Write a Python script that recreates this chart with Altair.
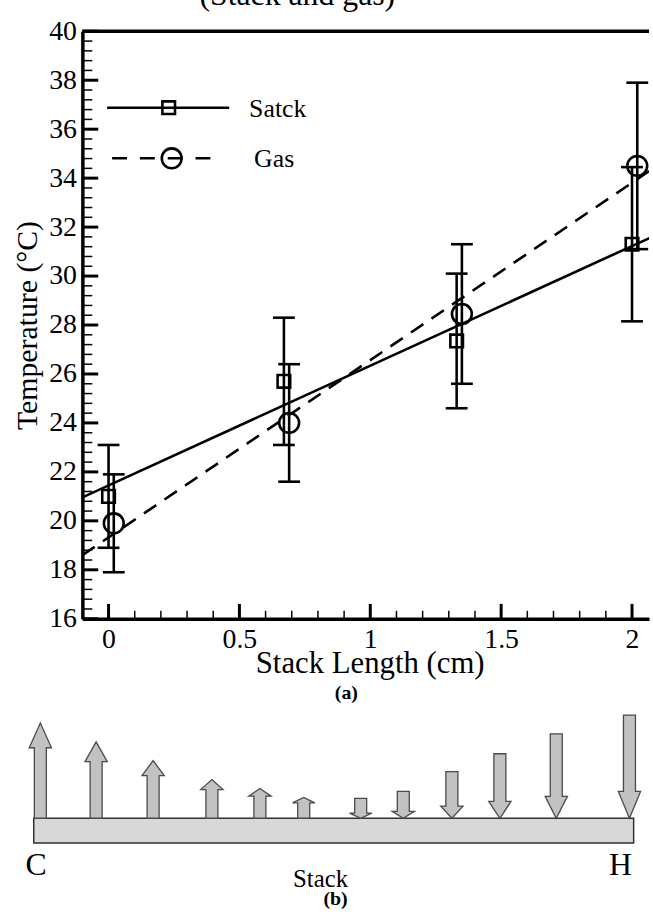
import altair as alt
import numpy as np
import pandas as pd

# ---------------- panel (a): temperatures along the stack ----------------
series_names = ["Satck", "Gas"]

stack_x = [0.0, 0.67, 1.33, 2.0]
stack_temp = [21.0, 25.7, 27.35, 31.3]
stack_err = [2.1, 2.6, 2.75, 3.15]

gas_x = [0.02, 0.69, 1.35, 2.02]
gas_temp = [19.9, 24.0, 28.45, 34.5]
gas_err = [2.0, 2.4, 2.85, 3.4]

x_ticks = [0, 0.5, 1, 1.5, 2]
y_ticks = [16, 18, 20, 22, 24, 26, 28, 30, 32, 34, 36, 38, 40]

caption_top = "(Stack and gas)"
x_title = "Stack Length (cm)"
y_title = "Temperature (°C)"
tag_a = "(a)"
tag_b = "(b)"

# ---------------- panel (b): heat flux arrows (+ up, - down) ----------------
arrow_pos = [0.011, 0.104, 0.199, 0.297, 0.377, 0.450,
             0.545, 0.616, 0.697, 0.777, 0.871, 0.993]
arrow_len = [96, 77, 58, 39, 30, 21, -20, -27, -47, -65, -85, -104]
end_labels = ["C", "H"]
stack_label = "Stack"

SERIF = "'Liberation Serif', 'Times New Roman', Times, serif"
INK = "#000000"
LW = 2.6

# ---------------- panel (a) ----------------
X_MIN, X_MAX = -0.1, 2.065
W_A, H_A = 571, 592
xs = alt.Scale(domain=[X_MIN, X_MAX], nice=False, zero=False)
ys = alt.Scale(domain=[y_ticks[0], y_ticks[-1]], nice=False, zero=False)

AX_X = alt.Axis(
    values=x_ticks, format="~g", ticks=False, tickSize=0,
    domainWidth=3.5, domainColor=INK, grid=False,
    labelFont=SERIF, labelFontSize=28, labelColor=INK,
    labelPadding=7, labelFlush=False,
    title=x_title, titleFont=SERIF, titleFontSize=31,
    titleFontWeight="normal", titleColor=INK,
    titleX=W_A / 2 + 4, titleY=54, titleAlign="center",
    titleBaseline="alphabetic",
)
AX_Y = alt.Axis(
    values=y_ticks, ticks=False, tickSize=0,
    domainWidth=3.5, domainColor=INK, grid=False,
    labelFont=SERIF, labelFontSize=28, labelColor=INK,
    labelPadding=6,
    title=y_title, titleFont=SERIF, titleFontSize=30,
    titleFontWeight="normal", titleColor=INK,
    titleAngle=270, titleX=-46, titleY=H_A / 2,
    titleAlign="center", titleBaseline="alphabetic",
)

stack_df = pd.DataFrame({"x": stack_x, "t": stack_temp, "e": stack_err})
gas_df = pd.DataFrame({"x": gas_x, "t": gas_temp, "e": gas_err})


def X(field):
    return alt.X(field, scale=xs, axis=AX_X)


def Y(field):
    return alt.Y(field, scale=ys, axis=AX_Y)


def fit_line(df, dash=None):
    kw = dict(clip=True, color=INK, strokeWidth=LW)
    if dash:
        kw["strokeDash"] = dash
    return (
        alt.Chart(df)
        .transform_regression("x", "t", extent=[X_MIN, 2.2])
        .mark_line(**kw)
        .encode(x=X("x:Q"), y=Y("t:Q"))
    )


def error_bars(df):
    base = alt.Chart(df).transform_calculate(
        lo="datum.t - datum.e", hi="datum.t + datum.e"
    )
    stem = base.mark_rule(color=INK, strokeWidth=LW).encode(
        x=X("x:Q"), y=Y("lo:Q"), y2="hi:Q"
    )
    caps = (
        base.transform_fold(["lo", "hi"], as_=["end", "v"])
        .mark_tick(orient="horizontal", size=22, thickness=LW, color=INK,
                   opacity=1)
        .encode(x=X("x:Q"), y=Y("v:Q"))
    )
    return stem + caps


def markers(df, shape, size):
    return alt.Chart(df).mark_point(
        shape=shape, size=size, filled=False, color=INK,
        strokeWidth=LW, opacity=1,
    ).encode(x=X("x:Q"), y=Y("t:Q"))


# inward ticks on the left and bottom axes
y_minor = [v for v in np.round(np.arange(16.4, 40.0, 0.4), 1) if v % 2]
x_minor = [v for v in np.round(np.arange(0.1, 2.06, 0.1), 1)
           if abs(v * 2 - round(v * 2)) > 1e-6]

y_major_ticks = alt.Chart(pd.DataFrame({"v": y_ticks})).mark_rule(
    color=INK, strokeWidth=3).encode(
    y=Y("v:Q"), x=alt.value(0), x2=alt.value(16))
y_minor_ticks = alt.Chart(pd.DataFrame({"v": y_minor})).mark_rule(
    color=INK, strokeWidth=1.5).encode(
    y=Y("v:Q"), x=alt.value(0), x2=alt.value(10))
x_major_ticks = alt.Chart(pd.DataFrame({"v": x_ticks})).mark_rule(
    color=INK, strokeWidth=3).encode(
    x=X("v:Q"), y=alt.value(H_A), y2=alt.value(H_A - 15))
x_minor_ticks = alt.Chart(pd.DataFrame({"v": x_minor})).mark_rule(
    color=INK, strokeWidth=1.5).encode(
    x=X("v:Q"), y=alt.value(H_A), y2=alt.value(H_A - 8))
top_border = alt.Chart(pd.DataFrame({"v": [0]})).mark_rule(
    color=INK, strokeWidth=3.5).encode(
    x=alt.value(0), x2=alt.value(W_A), y=alt.value(0))


def legend_row(name, y_px, x0, x1, xm, xt, shape, size, dash=None):
    base = alt.Chart(pd.DataFrame({"name": [name]}))
    kw = dict(color=INK, strokeWidth=LW)
    if dash:
        kw["strokeDash"] = dash
    line = base.mark_rule(**kw).encode(
        x=alt.value(x0), x2=alt.value(x1), y=alt.value(y_px))
    sym = base.mark_point(
        shape=shape, size=size, filled=False, color=INK,
        strokeWidth=LW, opacity=1).encode(x=alt.value(xm), y=alt.value(y_px))
    txt = base.mark_text(
        font=SERIF, fontSize=26, align="left", baseline="alphabetic",
        color=INK).encode(x=alt.value(xt), y=alt.value(y_px + 9), text="name:N")
    return line + sym + txt


caption = alt.Chart(pd.DataFrame({"c": [caption_top]})).mark_text(
    font=SERIF, fontSize=32, align="left", baseline="alphabetic",
    color=INK).encode(x=alt.value(118), y=alt.value(-26), text="c:N")
tag_a_text = alt.Chart(pd.DataFrame({"c": [tag_a]})).mark_text(
    font=SERIF, fontSize=20, fontWeight="bold", align="center",
    baseline="middle", color=INK).encode(
    x=alt.value(266), y=alt.value(H_A + 75), text="c:N")

panel_a = alt.layer(
    fit_line(stack_df),
    fit_line(gas_df, dash=[15, 10]),
    error_bars(stack_df),
    error_bars(gas_df),
    markers(stack_df, "square", 161),
    markers(gas_df, "circle", 400),
    y_major_ticks, y_minor_ticks, x_major_ticks, x_minor_ticks, top_border,
    legend_row(series_names[0], 77, 25, 148, 87, 168, "square", 161),
    legend_row(series_names[1], 128, 30, 136, 90, 173, "circle", 400,
               dash=[15, 13]),
    caption,
    tag_a_text,
).properties(width=W_A, height=H_A)

# ---------------- panel (b) ----------------
PX_PER_UNIT = 604.5            # pixels per stack length in the sketch
W_B, H_B = 555.5, 204
xb = alt.Scale(domain=[49 / PX_PER_UNIT, 1.0], nice=False, zero=False)
yb = alt.Scale(domain=[-94, 110], nice=False, zero=False)
BOX = 25

# arrow outlines as symbol paths (symbol unit = 11 px for size 484)
ARROW_SIZE = 484
UNIT = np.sqrt(ARROW_SIZE) / 2
SH, HD = 0.55, 1.02             # half widths of shaft and head, in units


def arrow_path(v):
    L = abs(v) / UNIT
    h = 0.26 * L
    if v > 0:
        n = L - h
        pts = [(-SH, 0), (-SH, -n), (-HD, -n), (0, -L), (HD, -n), (SH, -n),
               (SH, 0)]
    else:
        pts = [(-SH, -L), (SH, -L), (SH, -h), (HD, -h), (0, 0), (-HD, -h),
               (-SH, -h)]
    return "M" + "L".join(f"{x:.3f},{y:.3f}" for x, y in pts) + "Z"


arrows_df = pd.DataFrame({
    "pos": arrow_pos,
    "flux": arrow_len,
    "base": [0] * len(arrow_pos),
    "path": [arrow_path(v) for v in arrow_len],
})

arrows = alt.Chart(arrows_df).mark_point(
    filled=True, fill="#c2c2c2", stroke="#4a4a4a", strokeWidth=1.3,
    opacity=1, size=ARROW_SIZE).encode(
    x=alt.X("pos:Q", scale=xb, axis=None),
    y=alt.Y("base:Q", scale=yb, axis=None),
    shape=alt.Shape("path:N", scale=None),
)

stack_box = alt.Chart(pd.DataFrame({"s0": [0.0], "s1": [1.0]})).mark_rect(
    fill="#d8d8d8", stroke="#333333", strokeWidth=1.5).encode(
    x=alt.X("s0:Q", scale=xb, axis=None), x2="s1:Q",
    y=alt.Y(datum=-BOX, scale=yb, axis=None), y2=alt.Y2(datum=0))

ends = alt.Chart(pd.DataFrame({"s": [0.004, 0.978], "lab": end_labels})).mark_text(
    font=SERIF, fontSize=32, align="center", baseline="middle", color=INK).encode(
    x=alt.X("s:Q", scale=xb, axis=None),
    y=alt.Y(datum=-47, scale=yb, axis=None), text="lab:N")

stack_txt = alt.Chart(pd.DataFrame({"s": [0.478], "lab": [stack_label]})).mark_text(
    font=SERIF, fontSize=25, align="center", baseline="middle", color=INK).encode(
    x=alt.X("s:Q", scale=xb, axis=None),
    y=alt.Y(datum=-61, scale=yb, axis=None), text="lab:N")

tag_b_text = alt.Chart(pd.DataFrame({"s": [0.503], "lab": [tag_b]})).mark_text(
    font=SERIF, fontSize=20, fontWeight="bold", align="center",
    baseline="middle", color=INK).encode(
    x=alt.X("s:Q", scale=xb, axis=None),
    y=alt.Y(datum=-81, scale=yb, axis=None), text="lab:N")

panel_b = alt.layer(stack_box, arrows, ends, stack_txt, tag_b_text).properties(
    width=W_B, height=H_B)

chart = (
    alt.vconcat(panel_a, panel_b, spacing=4)
    .properties(padding={"left": 12, "top": -25, "right": 0, "bottom": 0})
    .configure_view(stroke="transparent")
)

chart.save("out.html", embed_options={"renderer": "svg", "actions": False})
